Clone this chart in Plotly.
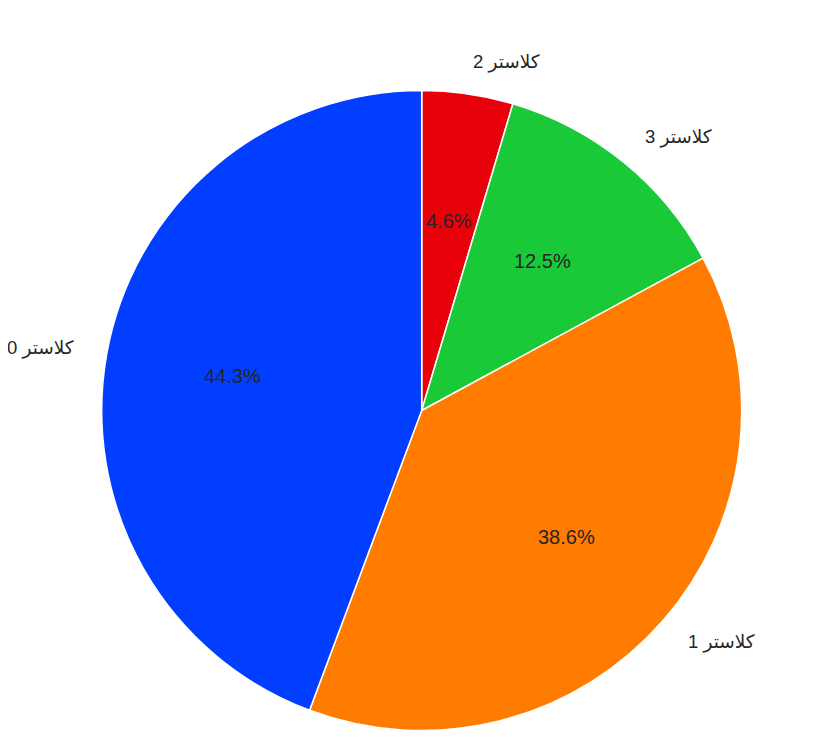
import math
import plotly.graph_objects as go

# cluster shares, in the order they were plotted (value_counts order)
labels = ["كلاستر 0", "كلاستر 1", "كلاستر 3", "كلاستر 2"]
shares = [44.3, 38.6, 12.5, 4.6]
colors = ["#023eff", "#ff7c00", "#1ac938", "#e8000b"]

# page body has an 8px margin, so the figure is a bit smaller than the window
W, H = 810, 729
cx, cy, R = 413.7, 402.5, 320.0   # pie centre / radius in figure pixels
text_col = "#262626"
font = "Liberation Sans, Arial, DejaVu Sans, sans-serif"

# slices run counterclockwise from 12 o'clock; plotly's clockwise mode
# starts the first slice at 12 o'clock, so feed it the reversed order
fig = go.Figure(go.Pie(
    labels=labels[::-1],
    values=shares[::-1],
    sort=False,
    direction="clockwise",
    rotation=0,
    marker=dict(colors=colors[::-1], line=dict(color="white", width=1.5)),
    textinfo="none",
    hoverinfo="skip",
    showlegend=False,
    domain=dict(x=[(cx - R) / W, (cx + R) / W],
                y=[(H - cy - R) / H, (H - cy + R) / H]),
))

# labels at 1.1 r and percentages at 0.6 r, like matplotlib's pie
total = sum(shares)
cum = 0
for lab, v in zip(labels, shares):
    ang = math.radians(90 + 360 * (cum + v / 2) / total)
    cum += v
    c, s = math.cos(ang), math.sin(ang)
    fig.add_annotation(
        x=(cx + 1.1 * R * c) / W, y=(H - cy + 1.1 * R * s) / H,
        xref="paper", yref="paper", text=lab, showarrow=False,
        xanchor="left" if c > 0 else "right", yanchor="middle",
        borderpad=0,
        font=dict(family=font, size=18.5, color=text_col),
    )
    fig.add_annotation(
        x=(cx + 0.6 * R * c) / W, y=(H - cy + 0.6 * R * s) / H,
        xref="paper", yref="paper", text=f"{v:.1f}%", showarrow=False,
        xanchor="center", yanchor="middle",
        font=dict(family=font, size=20, color=text_col),
    )

fig.update_layout(
    width=W, height=H,
    margin=dict(l=0, r=0, t=0, b=0),
    paper_bgcolor="white",
    plot_bgcolor="white",
)

fig.write_html("out.html")
